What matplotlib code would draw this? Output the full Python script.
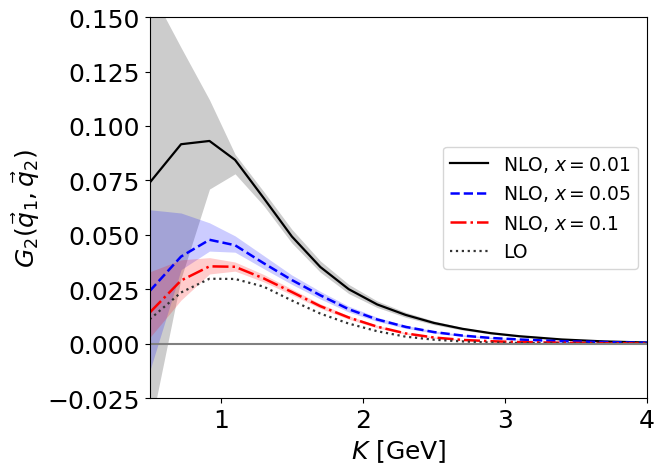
import numpy as np
import matplotlib
matplotlib.use("Agg")
import matplotlib.pyplot as plt

# K grid [GeV]
K = [0.5, 0.72, 0.92, 1.1, 1.3, 1.5, 1.7, 1.9, 2.1, 2.3, 2.5, 2.7, 2.9, 3.1, 3.4, 3.7, 4.0]

# NLO, x = 0.01
nlo_001 = [0.0740, 0.0916, 0.0931, 0.0844, 0.0670, 0.0492, 0.0352, 0.0250, 0.0180, 0.0132,
           0.0095, 0.0068, 0.0048, 0.0034, 0.0019, 0.0010, 0.0005]
nlo_001_hi = [0.163, 0.136, 0.112, 0.087, 0.0700, 0.0525, 0.0380, 0.0272, 0.0196, 0.0144,
              0.0104, 0.0074, 0.0052, 0.0037, 0.0021, 0.0011, 0.0006]
nlo_001_lo = [-0.040, 0.030, 0.071, 0.078, 0.0635, 0.0462, 0.0328, 0.0230, 0.0166, 0.0121,
              0.0087, 0.0062, 0.0044, 0.0031, 0.0017, 0.0009, 0.0004]

# NLO, x = 0.05
nlo_005 = [0.0242, 0.0400, 0.0477, 0.0452, 0.0370, 0.0292, 0.0222, 0.0158, 0.0111, 0.0077,
           0.0053, 0.0037, 0.0026, 0.0019, 0.0011, 0.0007, 0.0004]
nlo_005_hi = [0.0615, 0.0600, 0.0555, 0.0495, 0.0405, 0.0315, 0.0240, 0.0172, 0.0121, 0.0084,
              0.0058, 0.0041, 0.0029, 0.0021, 0.0012, 0.0008, 0.0005]
nlo_005_lo = [-0.0125, 0.0340, 0.0425, 0.0420, 0.0345, 0.0272, 0.0205, 0.0145, 0.0102, 0.0070,
              0.0048, 0.0033, 0.0023, 0.0017, 0.0010, 0.0006, 0.0003]

# NLO, x = 0.1
nlo_01 = [0.0143, 0.0290, 0.0355, 0.0353, 0.0300, 0.0237, 0.0172, 0.0120, 0.0078, 0.0047,
          0.0028, 0.0017, 0.0011, 0.0007, 0.0004, 0.0002, 0.0001]
nlo_01_hi = [0.0330, 0.0385, 0.0395, 0.0375, 0.0318, 0.0251, 0.0183, 0.0128, 0.0084, 0.0051,
             0.0031, 0.0019, 0.0012, 0.0008, 0.0005, 0.0003, 0.0002]
nlo_01_lo = [0.0028, 0.0200, 0.0320, 0.0333, 0.0284, 0.0224, 0.0162, 0.0112, 0.0072, 0.0043,
             0.0025, 0.0015, 0.0010, 0.0006, 0.0003, 0.0001, 0.0000]

# LO
lo = [0.0112, 0.0235, 0.0298, 0.0297, 0.0262, 0.0198, 0.0138, 0.0092, 0.0057, 0.0032,
      0.0018, 0.0010, 0.0005, 0.0003, 0.0001, 0.00005, 0.00002]

plt.rcParams['font.size'] = 18

fig = plt.figure(figsize=(6.57, 4.64), dpi=100)
ax = fig.add_axes([0.228, 0.140, 0.757, 0.821])

ax.fill_between(K, nlo_001_lo, nlo_001_hi, color='grey', alpha=0.4, lw=0)
ax.fill_between(K, nlo_005_lo, nlo_005_hi, color='blue', alpha=0.2, lw=0)
ax.fill_between(K, nlo_01_lo, nlo_01_hi, color='red', alpha=0.2, lw=0)

ax.plot(K, nlo_001, 'k-', lw=1.6, label=r'NLO, $x=0.01$')
ax.plot(K, nlo_005, 'b--', lw=1.8, label=r'NLO, $x=0.05$')
ax.plot(K, nlo_01, 'r-.', lw=1.8, label=r'NLO, $x=0.1$')
ax.plot(K, lo, ':', color='#333333', lw=1.6, label='LO')

ax.axhline(0, color='grey', lw=1.5)

ax.set_xlim(0.5, 4)
ax.set_ylim(-0.025, 0.15)
ax.set_xticks([1, 2, 3, 4])
ax.set_yticks(np.arange(-0.025, 0.151, 0.025))
ax.set_xlabel(r'$K$ [GeV]')
ax.set_ylabel(r'$G_2(\vec{q}_1,\vec{q}_2)$')
ax.legend(loc='center right', fontsize=13.5)

fig.savefig('out.png', dpi=100)
